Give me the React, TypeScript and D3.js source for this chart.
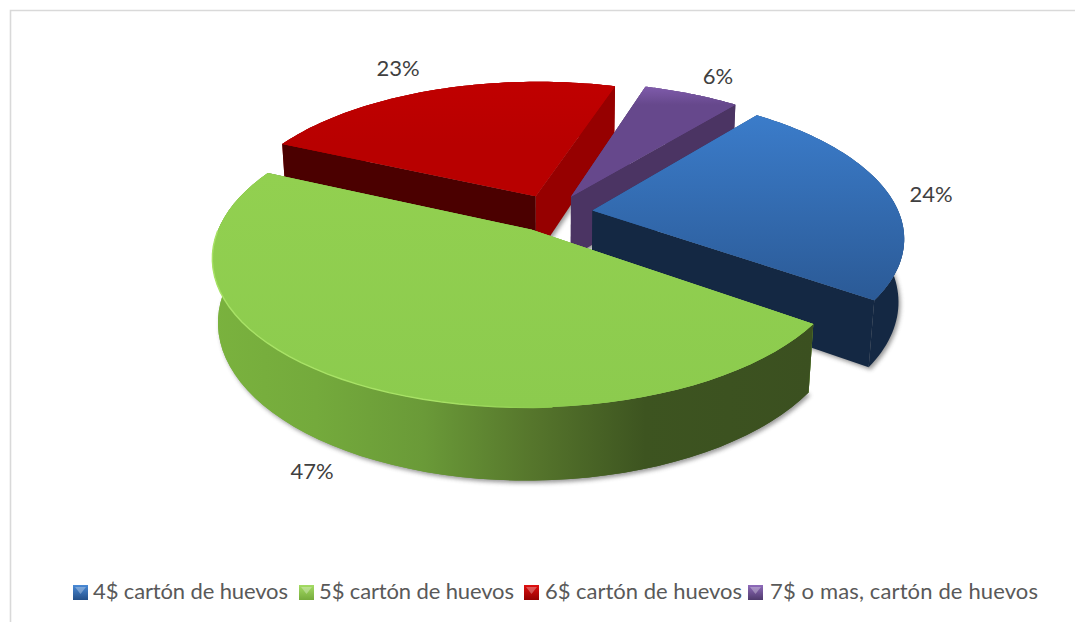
import React from "react";
import * as d3 from "d3";

const categories = ["4$ cartón de huevos", "5$ cartón de huevos", "6$ cartón de huevos", "7$ o mas, cartón de huevos"];
const shares = [24, 47, 23, 6];
const labels = ["24%", "47%", "23%", "6%"];

const W = 1075, H = 622;
const cx = 552, cy = 213, R = 306.5, tilt = 0.457, persp = 0.176, drop = 63, sink = 0.016, explode = 41;
const startDeg = 39;
const FONT = "Lato, 'Open Sans', sans-serif";

const topColors = [["#3b7cca", "#2b5a96"], ["#92d050", "#8ccb4e"], ["#c00000", "#b80000"], ["#7f5bab", "#66488c"]];
const legendColors = [["#4a8ad6", "#234f88"], ["#a4dc64", "#76ab3c"], ["#e01010", "#930000"], ["#8f6bbb", "#4f3a6c"]];
const endWall = ["#142843", "#3b5020", "#960000", "#4b3463"];
const startWall = ["#142843", "#78b03c", "#4b0000", "#3f2a55"];
const labelX = [931, 312, 398, 718];
const labelY = [196, 473, 70, 78];
const legendMarkX = [73, 299, 524, 748];
const legendTextX = [93, 319, 545, 770];
const legendTextW = [195, 195, 197, 268];

type P = [number, number];
const project = (X: number, Y: number, h: number): P => {
  const s = 1 / (1 + persp * Y + sink * h);
  return [cx + R * X * s, cy - R * tilt * Y * s + drop * h * s];
};

const pie = d3.pie<number>().sort(null)
  .startAngle((startDeg * Math.PI) / 180)
  .endAngle((startDeg * Math.PI) / 180 + 2 * Math.PI);
const arcs = pie(shares);
const line = d3.line<P>();

const slices = arcs.map((a, i) => {
  const mid = (a.startAngle + a.endAngle) / 2;
  const ox = (explode / R) * Math.sin(mid), oy = (explode / R) * Math.cos(mid);
  const at = (t: number, r: number, h: number) => project(ox + r * Math.sin(t), oy + r * Math.cos(t), h);
  const ts = d3.range(0, 61).map((k) => a.startAngle + ((a.endAngle - a.startAngle) * k) / 60);
  const topRim = ts.map((t) => at(t, 1, 0));
  const botRim = ts.map((t) => at(t, 1, 1));
  const apex0 = at(0, 0, 0), apex1 = at(0, 0, 1);
  return {
    i,
    top: line([apex0, ...topRim])! + "Z",
    rim: line(topRim.slice(18, 52))!,
    outer: line([...topRim, ...botRim.slice().reverse()])! + "Z",
    cutStart: line([apex0, topRim[0], botRim[0], apex1])! + "Z",
    cutEnd: line([apex0, topRim[60], botRim[60], apex1])! + "Z",
    shadow: line([apex1, ...botRim])! + "Z",
    yTop: d3.min(topRim, (p) => p[1])!,
    yBot: d3.max(topRim, (p) => p[1])!,
  };
});
const drawOrder = [2, 3, 0, 1];
const wallStops: [number, string][] = [[0, "#7ab23e"], [0.17, "#74aa3c"], [0.35, "#6a9a38"], [0.53, "#56762c"], [0.72, "#3d5420"], [1, "#3b5020"]];

export default function App() {
  return (
    <svg width={W} height={H} viewBox={`0 0 ${W} ${H}`} style={{ position: "fixed", left: 0, top: 0, background: "#fff" }}>
      <defs>
        <filter id="soft" x="-10%" y="-10%" width="120%" height="120%"><feGaussianBlur stdDeviation="2.2" /></filter>
        <filter id="edge" x="-5%" y="-5%" width="110%" height="110%"><feGaussianBlur stdDeviation="0.5" /></filter>
        {slices.map((s) => (
          <linearGradient key={s.i} id={`top${s.i}`} gradientUnits="userSpaceOnUse" x1="0" x2="0" y1={s.yTop} y2={s.yBot}>
            <stop offset="0" stopColor={topColors[s.i][0]} />
            <stop offset="1" stopColor={topColors[s.i][1]} />
          </linearGradient>
        ))}
        <linearGradient id="greenWall" gradientUnits="userSpaceOnUse" x1="214" x2="813" y1="0" y2="0">
          {wallStops.map(([o, c]) => <stop key={o} offset={o} stopColor={c} />)}
        </linearGradient>
        <linearGradient id="rimFade" gradientUnits="userSpaceOnUse" x1="214" x2="540" y1="0" y2="0">
          <stop offset="0" stopColor="#a8e266" />
          <stop offset="0.7" stopColor="#a8e266" />
          <stop offset="1" stopColor="#8ccb4e" />
        </linearGradient>
        {legendColors.map((c, i) => (
          <linearGradient key={i} id={`leg${i}`} x1="0" x2="0" y1="0" y2="1">
            <stop offset="0" stopColor={c[0]} />
            <stop offset="1" stopColor={c[1]} />
          </linearGradient>
        ))}
      </defs>
      <path d={`M10.5 622V10.5H${W}`} fill="none" stroke="#d9d9d9" strokeWidth="1.6" />
      {drawOrder.map((k) => {
        const s = slices[k];
        return (
          <g key={k}>
            <path d={s.shadow} fill="#555" opacity="0.6" filter="url(#soft)" transform="translate(2,2.5)" />
            <path d={s.outer} fill={k === 1 ? "url(#greenWall)" : endWall[k]} />
            <path d={s.cutStart} fill={startWall[k]} />
            <path d={s.cutEnd} fill={endWall[k]} />
            {k === 1 && <path d={s.outer} fill="url(#greenWall)" />}
            <path d={s.top} fill={`url(#top${k})`} filter="url(#edge)" />
            <path d={s.top} fill={`url(#top${k})`} />
            {k === 1 && <path d={s.rim} fill="none" stroke="url(#rimFade)" strokeWidth="1.4" strokeLinecap="round" />}
          </g>
        );
      })}
      {labels.map((t, i) => (
        <text key={t} x={labelX[i]} y={labelY[i]} textAnchor="middle" dominantBaseline="middle" fontFamily={FONT} fontSize="22" fill="#404040">{t}</text>
      ))}
      {categories.map((c, i) => (
        <g key={c}>
          <rect x={legendMarkX[i]} y={585} width={15} height={15} fill={`url(#leg${i})`} />
          <path d={`M${legendMarkX[i] + 2} 587L${legendMarkX[i] + 13} 587L${legendMarkX[i] + 7.5} 594Z`} fill="#fff" opacity="0.3" />
          <text x={legendTextX[i]} y={599} fontFamily={FONT} fontSize="22" fill="#595959" textLength={legendTextW[i]} lengthAdjust="spacing">{c}</text>
        </g>
      ))}
    </svg>
  );
}
